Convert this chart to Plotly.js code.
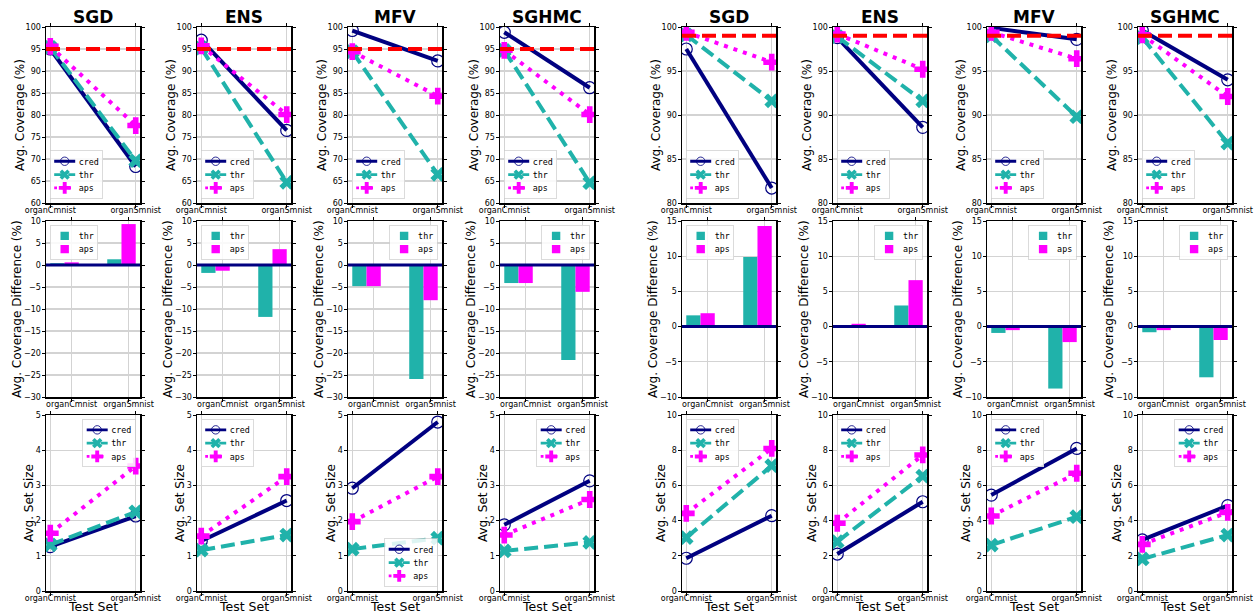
<!DOCTYPE html>
<html><head><meta charset="utf-8">
<script src="https://cdn.plot.ly/plotly-3.0.1.min.js"></script>
<style>html,body{margin:0;padding:0;background:#fff}#chart{width:1255px;height:615px}</style>
</head><body><div id="chart"></div>
<script>
// ---------------- DATA ----------------
const models = ['SGD', 'ENS', 'MFV', 'SGHMC'];
const testSets = ['organCmnist', 'organSmnist'];
const targets = [95, 99];            // left block, right block

// Avg. Coverage (%) — left block (target 95)
const covL_cred = [[95.0, 68.3], [97.0, 76.5], [99.2, 92.3], [98.8, 86.2]];
const covL_thr  = [[95.4, 69.6], [95.2, 64.7], [94.4, 66.5], [94.7, 64.6]];
const covL_aps  = [[95.6, 77.6], [95.7, 80.1], [94.4, 84.3], [94.7, 80.1]];
// Avg. Coverage (%) — right block (target 99)
const covR_cred = [[97.5, 81.7], [98.8, 88.6], [99.9, 98.6], [99.6, 94.0]];
const covR_thr  = [[99.1, 91.6], [98.9, 91.6], [99.0, 89.8], [98.8, 86.8]];
const covR_aps  = [[99.4, 96.0], [99.2, 95.2], [99.4, 96.4], [99.1, 92.1]];

// Avg. Coverage Difference (%)
const diffL_thr = [[0.4, 1.3], [-1.8, -11.8], [-4.8, -25.9], [-4.1, -21.6]];
const diffL_aps = [[0.6, 9.3], [-1.3, 3.6], [-4.8, -8.0], [-4.1, -6.1]];
const diffR_thr = [[1.6, 9.9], [0.1, 3.0], [-0.9, -8.8], [-0.8, -7.2]];
const diffR_aps = [[1.9, 14.3], [0.4, 6.6], [-0.5, -2.2], [-0.5, -1.9]];

// Avg. Set Size
const sizeL_cred = [[1.26, 2.13], [1.42, 2.57], [2.92, 4.80], [1.88, 3.13]];
const sizeL_thr  = [[1.31, 2.25], [1.16, 1.59], [1.19, 1.50], [1.14, 1.38]];
const sizeL_aps  = [[1.64, 3.55], [1.56, 3.25], [1.97, 3.25], [1.59, 2.60]];
const sizeR_cred = [[1.86, 4.28], [2.10, 5.07], [5.45, 8.10], [2.90, 4.85]];
const sizeR_thr  = [[3.03, 7.12], [2.80, 6.53], [2.61, 4.22], [1.82, 3.18]];
const sizeR_aps  = [[4.41, 8.10], [3.85, 7.73], [4.26, 6.69], [2.65, 4.47]];

// ---------------- LAYOUT GEOMETRY ----------------
const W = 1255, H = 615;
const colX = [46, 197, 348, 500, 682, 833, 987, 1138];
const colW = 94;
const rowY = [[27, 203], [221, 397], [415, 591]];
const yTitleOffset = [[26, 26], [29, 29], [17, 21]];   // px left of frame, per row / block

const C_CRED = '#000080', C_THR = '#20B2AA', C_APS = '#FF00FF';
const DASH = '14px,6px', DOT = '4px,6px';
const FONT = 'DejaVu Sans, Arial, sans-serif';
const MONO = 'DejaVu Sans Mono, monospace';
const LEG_SCALE = 0.7;

const legendPos = [
  ['ll','ll','ll','ll','ll','ll','ll','ll'],
  ['ul','ul','ur','ur','ul','ur','ur','ur'],
  ['ur','ul','lr','ur','ul','ul','ul','ur']
];

const traces = [];
const legendInfo = [];
const layout = {
  width: W, height: H,
  margin: {l: 0, r: 0, t: 0, b: 0},
  paper_bgcolor: '#fff', plot_bgcolor: '#fff',
  barmode: 'overlay',
  showlegend: true,
  shapes: [], annotations: [],
  font: {family: FONT, color: '#000'}
};

function axisBase() {
  return {
    showline: true, mirror: 'ticks', linecolor: '#000', linewidth: 1.5,
    ticks: 'outside', ticklen: 3, tickwidth: 1, tickcolor: '#000',
    showgrid: true, gridcolor: '#d3d3d3', gridwidth: 1.3, zeroline: false,
    tickfont: {family: FONT, size: 8, color: '#000'},
    automargin: false, fixedrange: true
  };
}

function legName(n) { return n === 1 ? 'legend' : 'legend' + n; }

function setupAxes(n, r, c, yRange, dtick, ytitle, xRange) {
  const g = c < 4 ? 0 : 1;
  const x0 = colX[c] / W, x1 = (colX[c] + colW) / W;
  const y0 = 1 - rowY[r][1] / H, y1 = 1 - rowY[r][0] / H;
  const xa = axisBase();
  Object.assign(xa, {domain: [x0, x1], anchor: 'y' + n, range: xRange,
    tickmode: 'array', tickvals: [0, 1], ticktext: testSets, ticklabelstandoff: -4});
  const ya = axisBase();
  Object.assign(ya, {domain: [y0, y1], anchor: 'x' + n, range: yRange, dtick: dtick, tick0: 0,
    ticklabelstandoff: -1});
  layout['xaxis' + n] = xa;
  layout['yaxis' + n] = ya;
  // y title
  layout.annotations.push({text: ytitle, xref: 'paper', yref: 'paper', textangle: -90,
    x: (colX[c] - yTitleOffset[r][g]) / W, y: (y0 + y1) / 2, xanchor: 'center', yanchor: 'middle',
    showarrow: false, borderpad: 0, font: {family: FONT, size: 12, color: '#000'}});
  if (r === 2) {
    layout.annotations.push({text: 'Test Set', xref: 'paper', yref: 'paper',
      x: (x0 + x1) / 2, y: 1 - 606.5 / H, xanchor: 'center', yanchor: 'middle', borderpad: 0,
      showarrow: false, font: {family: FONT, size: 12.5, color: '#000'}});
  }
  // legend
  const pos = legendPos[r][c];
  const inX = 4 / W, inY = 4 / H;
  const leg = {
    font: {family: MONO, size: 12, color: '#000'},
    bgcolor: 'rgba(255,255,255,0.85)', bordercolor: '#cccccc', borderwidth: 1,
    itemwidth: 30, tracegroupgap: 0, itemclick: false, itemdoubleclick: false
  };
  if (pos[1] === 'l') { leg.x = x0 + inX; leg.xanchor = 'left'; } else { leg.x = x1 - inX; leg.xanchor = 'right'; }
  if (pos[0] === 'u') { leg.y = y1 - inY; leg.yanchor = 'top'; } else { leg.y = y0 + inY; leg.yanchor = 'bottom'; }
  layout[legName(n)] = leg;
  legendInfo.push({id: legName(n), right: pos[1] === 'r', bottom: pos[0] === 'l'});
  return {x0, x1, y0, y1};
}

function lineTraces(n, cred, thr, aps) {
  const xs = [0, 1];
  const xa = n === 1 ? 'x' : 'x' + n, ya = n === 1 ? 'y' : 'y' + n;
  traces.push({type: 'scatter', mode: 'lines+markers', name: 'cred', x: xs, y: cred, xaxis: xa, yaxis: ya,
    legend: legName(n), line: {color: C_CRED, width: 4},
    marker: {symbol: 'circle-open', size: 12, color: C_CRED, line: {width: 1.2, color: C_CRED}}});
  traces.push({type: 'scatter', mode: 'lines+markers', name: 'thr', x: xs, y: thr, xaxis: xa, yaxis: ya,
    legend: legName(n), line: {color: C_THR, width: 4, dash: DASH},
    marker: {symbol: 'x', size: 13, color: C_THR}});
  traces.push({type: 'scatter', mode: 'lines+markers', name: 'aps', x: xs, y: aps, xaxis: xa, yaxis: ya,
    legend: legName(n), line: {color: C_APS, width: 4, dash: DOT},
    marker: {symbol: 'cross', size: 14, color: C_APS}});
}

function barTraces(n, thr, aps) {
  const xs = [0, 1];
  const xa = 'x' + n, ya = 'y' + n;
  traces.push({type: 'bar', name: 'thr', x: xs, y: thr, xaxis: xa, yaxis: ya, legend: legName(n),
    width: 0.25, offset: -0.375, marker: {color: C_THR, line: {width: 0}}});
  traces.push({type: 'bar', name: 'aps', x: xs, y: aps, xaxis: xa, yaxis: ya, legend: legName(n),
    width: 0.25, offset: -0.125, marker: {color: C_APS, line: {width: 0}}});
}

for (let g = 0; g < 2; g++) {
  const cov = g === 0 ? [covL_cred, covL_thr, covL_aps] : [covR_cred, covR_thr, covR_aps];
  const dif = g === 0 ? [diffL_thr, diffL_aps] : [diffR_thr, diffR_aps];
  const siz = g === 0 ? [sizeL_cred, sizeL_thr, sizeL_aps] : [sizeR_cred, sizeR_thr, sizeR_aps];
  for (let m = 0; m < 4; m++) {
    const c = g * 4 + m;
    // Row 1: coverage
    let n = c + 1;
    const d = setupAxes(n, 0, c, g === 0 ? [60, 100] : [80, 100], 5, 'Avg. Coverage (%)', [-0.05, 1.05]);
    lineTraces(n, cov[0][m], cov[1][m], cov[2][m]);
    layout.shapes.push({type: 'line', xref: (n === 1 ? 'x' : 'x' + n) + ' domain', yref: n === 1 ? 'y' : 'y' + n,
      x0: 0, x1: 1, y0: targets[g], y1: targets[g], line: {color: '#FF0000', width: 4, dash: DASH}, layer: 'above'});
    layout.annotations.push({text: '<b>' + models[m] + '</b>', xref: 'paper', yref: 'paper',
      x: (d.x0 + d.x1) / 2, y: 1 - 17 / H, xanchor: 'center', yanchor: 'middle', showarrow: false,
      font: {family: FONT, size: 17, color: '#000'}});
    // Row 2: coverage difference
    n = 8 + c + 1;
    setupAxes(n, 1, c, g === 0 ? [-30, 10] : [-10, 15], 5, 'Avg. Coverage Difference (%)', [-0.45, 1.2]);
    barTraces(n, dif[0][m], dif[1][m]);
    layout.shapes.push({type: 'line', xref: 'x' + n + ' domain', yref: 'y' + n,
      x0: 0, x1: 1, y0: 0, y1: 0, line: {color: C_CRED, width: 3}, layer: 'above'});
    // Row 3: set size
    n = 16 + c + 1;
    setupAxes(n, 2, c, g === 0 ? [0, 5] : [0, 10], g === 0 ? 1 : 2, 'Avg. Set Size', [-0.05, 1.05]);
    lineTraces(n, siz[0][m], siz[1][m], siz[2][m]);
  }
}

Plotly.newPlot('chart', traces, layout, {staticPlot: true, displayModeBar: false}).then(function () {
  // shrink the legend boxes to the compact matplotlib-like size, keeping their anchored corner
  legendInfo.forEach(function (L) {
    const g = document.querySelector('#chart g.' + L.id);
    if (!g) return;
    const tr = g.getAttribute('transform') || '';
    const mt = /translate\(\s*([-\d.e]+)[ ,]+([-\d.e]+)\s*\)/.exec(tr);
    if (!mt) return;
    let tx = parseFloat(mt[1]), ty = parseFloat(mt[2]);
    const bg = g.querySelector('rect.bg');
    const w = bg ? parseFloat(bg.getAttribute('width')) : 0;
    const h = bg ? parseFloat(bg.getAttribute('height')) : 0;
    if (L.right) tx += (1 - LEG_SCALE) * w;
    if (L.bottom) ty += (1 - LEG_SCALE) * h;
    g.setAttribute('transform', 'translate(' + tx + ',' + ty + ') scale(' + LEG_SCALE + ')');
  });
});
</script>
</body></html>
